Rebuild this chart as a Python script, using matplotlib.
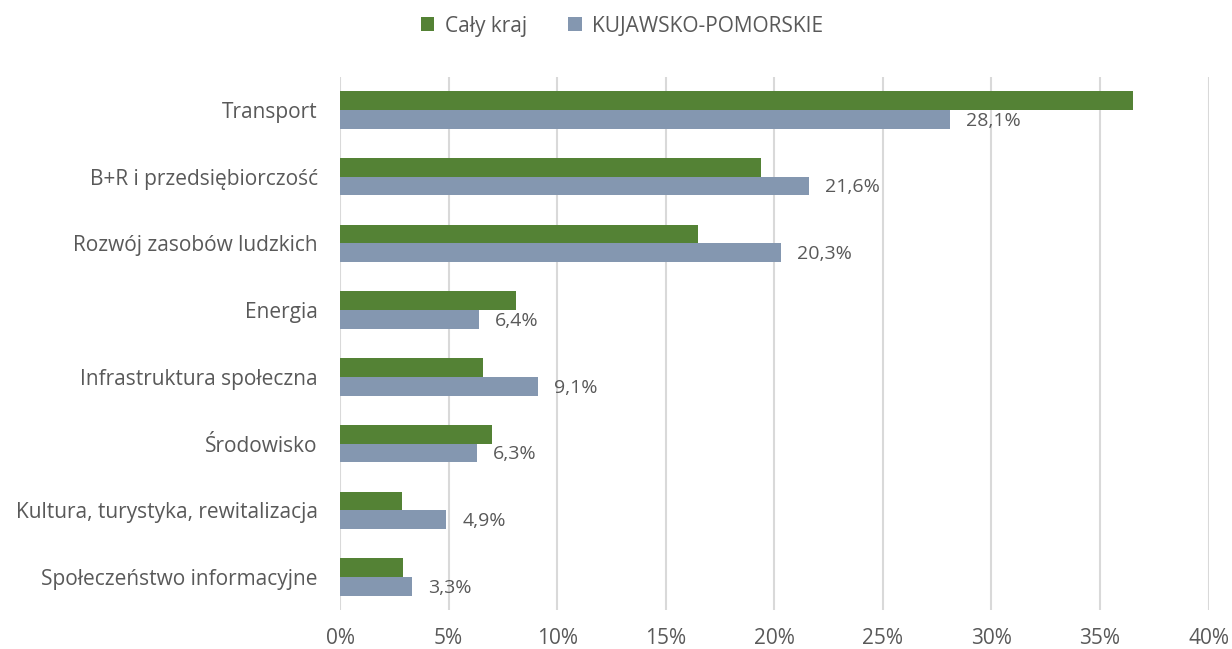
import matplotlib
matplotlib.use("Agg")
import matplotlib.pyplot as plt
import numpy as np

categories = ["Transport", "B+R i przedsiębiorczość", "Rozwój zasobów ludzkich", "Energia",
              "Infrastruktura społeczna", "Środowisko", "Kultura, turystyka, rewitalizacja",
              "Społeczeństwo informacyjne"]
caly_kraj = [36.5, 19.4, 16.5, 8.1, 6.6, 7.0, 2.85, 2.9]
kujawsko = [28.1, 21.6, 20.3, 6.4, 9.1, 6.3, 4.9, 3.3]
xticks = [0, 5, 10, 15, 20, 25, 30, 35, 40]
series_names = ["Cały kraj", "KUJAWSKO-POMORSKIE"]

plt.rcParams['font.family'] = ['Open Sans', 'DejaVu Sans']
TXT = "#595959"
GREEN = "#548235"
BLUE = "#8497B0"

fig = plt.figure(figsize=(12.32, 6.49), dpi=100)
ax = fig.add_axes([0.276, 0.0595, 0.705, 0.8225])

y = np.arange(len(categories))
h = 0.28
ax.barh(y - h/2, caly_kraj, height=h, color=GREEN, label=series_names[0], zorder=3)
ax.barh(y + h/2, kujawsko, height=h, color=BLUE, label=series_names[1], zorder=3)

for yi, v in zip(y, kujawsko):
    ax.text(v + 0.75, yi + h/2 + 0.02, f"{v:.1f}%".replace(".", ","), va="center", ha="left",
            fontsize=14, color=TXT)

ax.set_xlim(0, 40)
ax.set_ylim(len(categories) - 0.5, -0.5)
ax.set_yticks(y)
ax.set_yticklabels(categories, fontsize=15, color=TXT)
ax.set_xticks(xticks)
ax.set_xticklabels([f"{t}%" for t in xticks], fontsize=15, color=TXT)
ax.tick_params(axis='both', length=0)
ax.tick_params(axis='y', pad=16)
ax.tick_params(axis='x', pad=13)
for s in ax.spines.values():
    s.set_visible(False)
ax.grid(axis='x', color="#D9D9D9", linewidth=1.5, zorder=0)
ax.set_axisbelow(True)

leg = fig.legend(loc="upper center", bbox_to_anchor=(0.505, 1.005), ncol=2, frameon=False,
                 fontsize=15, handlelength=0.65, handleheight=0.65, columnspacing=2.0,
                 handletextpad=0.5)
for t in leg.get_texts():
    t.set_color(TXT)

fig.savefig("out.png", dpi=100)
